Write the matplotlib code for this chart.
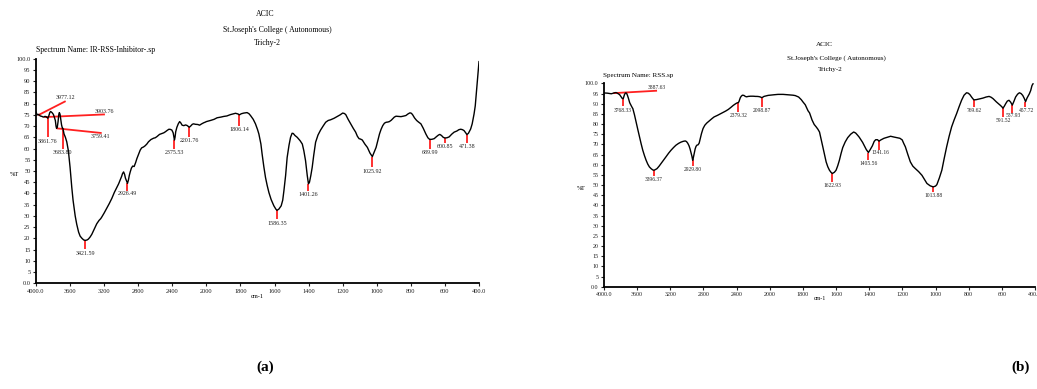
import numpy as np
import matplotlib
matplotlib.use("Agg")
import matplotlib.pyplot as plt
from matplotlib.ticker import FixedLocator, FuncFormatter

plt.rcParams['font.family'] = ['Liberation Serif', 'DejaVu Serif']

# ---------------- data: panel (a) IR-RSS-Inhibitor ----------------
wn_a = [4000, 3985, 3970, 3950, 3930, 3914, 3895, 3882, 3870, 3861, 3850, 3838, 3828, 3812, 3796,
        3785, 3773, 3765, 3759, 3750, 3741, 3733, 3726, 3718, 3710, 3700, 3690, 3684, 3671, 3655,
        3639, 3620, 3600, 3580, 3565, 3553, 3540, 3522, 3500, 3482, 3460, 3440, 3421, 3400, 3385,
        3365, 3345, 3320, 3300, 3287, 3260, 3240, 3228, 3200, 3169, 3140, 3110, 3080, 3051, 3030,
        3012, 2995, 2985, 2972, 2960, 2950, 2940, 2926, 2915, 2905, 2894, 2880, 2865, 2848, 2830,
        2816, 2795, 2777, 2760, 2738, 2720, 2699, 2680, 2651, 2620, 2600, 2581, 2550, 2522, 2500,
        2480, 2463, 2440, 2420, 2405, 2390, 2380, 2375, 2368, 2360, 2346, 2330, 2314, 2300, 2285,
        2265, 2245, 2228, 2210, 2200, 2185, 2165, 2150, 2130, 2100, 2080, 2055, 2030, 2016, 2000,
        1976, 1955, 1937, 1915, 1898, 1880, 1859, 1840, 1829, 1815, 1806, 1795, 1780, 1761, 1750,
        1741, 1725, 1712, 1700, 1692, 1680, 1673, 1663, 1653, 1643, 1633, 1620, 1604, 1592, 1586,
        1575, 1561, 1552, 1545, 1535, 1526, 1515, 1506, 1497, 1490, 1480, 1467, 1450, 1437, 1428,
        1418, 1408, 1401, 1395, 1387, 1379, 1370, 1359, 1345, 1330, 1315, 1300, 1285, 1271, 1250,
        1232, 1215, 1200, 1190, 1182, 1168, 1153, 1138, 1124, 1114, 1104, 1095, 1085, 1070, 1055,
        1040, 1026, 1015, 1004, 994, 984, 975, 965, 955, 945, 935, 926, 915, 907, 897,
        887, 870, 858, 845, 829, 815, 805, 797, 790, 778, 766, 755, 741, 727, 712,
        700, 690, 677, 663, 648, 638, 630, 620, 610, 600, 588, 575, 560, 546, 530,
        518, 507, 497, 488, 478, 471, 462, 449, 440, 429, 422, 416, 410, 405, 400]
T_a = [76.2, 75.0, 75.2, 74.5, 74.3, 74.0, 74.3, 74.2, 73.8, 73.5, 74.5, 76.0, 76.5, 76.0, 75.2,
       74.0, 72.5, 70.0, 69.0, 69.5, 72.0, 75.0, 76.0, 75.3, 73.2, 70.5, 69.0, 69.0, 66.5, 65.0,
       63.0, 59.0, 51.6, 42.7, 37.0, 33.7, 30.0, 26.3, 22.8, 21.0, 20.0, 19.3, 19.1, 19.3, 19.7,
       20.6, 21.8, 23.8, 25.5, 26.5, 28.0, 28.8, 29.5, 31.3, 33.5, 35.5, 37.8, 40.5, 42.7, 44.3,
       46.0, 47.6, 48.8, 49.6, 48.5, 46.8, 45.8, 44.5, 46.0, 48.0, 49.6, 51.3, 52.2, 52.0, 53.8,
       55.5, 57.5, 59.3, 60.3, 60.7, 61.2, 62.0, 63.0, 64.0, 64.6, 64.8, 65.3, 66.3, 66.7, 67.0,
       67.5, 68.0, 68.6, 68.5, 68.2, 67.0, 64.8, 63.8, 65.0, 67.5, 69.5, 71.0, 72.0, 71.4, 70.4,
       70.2, 70.5, 70.3, 69.8, 69.5, 70.0, 70.8, 71.0, 70.8, 70.7, 70.4, 71.0, 71.5, 71.7, 72.0,
       72.5, 73.0, 73.7, 74.0, 74.3, 74.5, 75.1, 75.5, 75.7, 75.4, 75.0, 75.5, 75.8, 76.0, 75.5,
       74.7, 73.0, 71.0, 68.5, 66.5, 62.0, 57.6, 52.0, 47.1, 43.5, 40.4, 37.3, 34.5, 33.0, 32.5,
       33.0, 34.5, 37.0, 41.2, 48.0, 56.0, 61.5, 65.0, 66.8, 66.7, 65.8, 65.0, 63.5, 62.0, 59.0,
       54.6, 48.0, 44.3, 45.0, 48.0, 51.6, 57.0, 62.8, 66.0, 68.2, 70.0, 71.7, 72.5, 72.8, 73.5,
       74.3, 75.0, 75.8, 75.6, 75.1, 73.0, 71.0, 69.0, 67.3, 65.5, 64.4, 64.2, 63.8, 62.0, 60.5,
       58.0, 56.4, 58.5, 60.5, 63.5, 66.5, 68.5, 70.2, 71.3, 71.7, 71.8, 72.0, 72.6, 73.2, 74.0,
       74.4, 74.3, 74.2, 74.4, 74.7, 75.5, 75.9, 75.7, 75.1, 73.6, 72.5, 71.8, 71.0, 69.0, 66.5,
       64.8, 64.1, 64.1, 64.4, 65.4, 66.0, 66.3, 65.8, 65.0, 64.7, 64.8, 65.2, 66.4, 67.3, 67.8,
       68.4, 68.6, 68.4, 68.0, 67.0, 66.2, 66.8, 68.7, 71.0, 75.4, 79.0, 84.4, 90.0, 94.5, 98.7]

peak_wn_a = [3977.12, 3903.76, 3861.76, 3759.41, 3683.80, 3421.59, 2926.49, 2375.53,
             2201.76, 1806.14, 1586.35, 1401.26, 1025.92, 689.99, 600.85, 471.38]
peak_T_a = [74.8, 74.0, 73.5, 69.0, 69.0, 19.1, 44.5, 63.8,
            69.5, 75.0, 32.5, 44.3, 56.4, 64.1, 64.7, 66.2]
peak_lbl_a = ["3977.12", "3903.76", "3861.76", "3759.41", "3683.80", "3421.59", "2926.49", "2375.53",
              "2201.76", "1806.14", "1586.35", "1401.26", "1025.92", "689.99", "600.85", "471.38"]

# ---------------- data: panel (b) RSS ----------------
wn_b = [4000, 3960, 3930, 3912, 3887, 3870, 3855, 3840, 3825, 3812, 3795, 3780, 3768, 3760, 3752,
        3740, 3728, 3716, 3704, 3690, 3680, 3665, 3652, 3632, 3612, 3592, 3572, 3552, 3532, 3512,
        3492, 3472, 3452, 3430, 3410, 3396, 3380, 3360, 3335, 3312, 3280, 3252, 3220, 3192, 3160,
        3132, 3100, 3072, 3045, 3020, 3005, 2990, 2975, 2962, 2950, 2940, 2930, 2922, 2910, 2900,
        2890, 2880, 2865, 2852, 2840, 2824, 2805, 2784, 2760, 2732, 2700, 2672, 2630, 2592, 2560,
        2532, 2500, 2472, 2440, 2412, 2395, 2385, 2378, 2370, 2364, 2355, 2344, 2330, 2312, 2295,
        2280, 2260, 2232, 2200, 2170, 2152, 2130, 2112, 2099, 2085, 2070, 2052, 2020, 2000, 1976,
        1950, 1920, 1886, 1860, 1846, 1826, 1810, 1799, 1786, 1769, 1760, 1745, 1732, 1720, 1710,
        1700, 1690, 1680, 1670, 1660, 1650, 1640, 1630, 1622, 1610, 1600, 1590, 1580, 1570, 1560,
        1545, 1530, 1512, 1494, 1482, 1470, 1460, 1451, 1440, 1431, 1418, 1405, 1395, 1381, 1370,
        1361, 1350, 1341, 1330, 1311, 1290, 1271, 1250, 1231, 1215, 1201, 1192, 1182, 1167, 1152,
        1137, 1122, 1102, 1082, 1067, 1052, 1032, 1014, 1000, 992, 977, 962, 948, 933, 918,
        903, 888, 873, 858, 843, 828, 813, 803, 793, 780, 769, 755, 743, 728, 713,
        695, 677, 665, 653, 643, 633, 620, 609, 600, 593, 585, 577, 567, 557, 547,
        537, 527, 517, 505, 494, 484, 474, 464, 457, 448, 434, 426, 418, 412]
T_b = [95.3, 95.2, 95.0, 94.9, 95.2, 95.4, 95.5, 95.2, 94.8, 94.5, 93.5, 92.6, 92.5, 93.5, 94.6,
       95.3, 95.2, 94.0, 92.5, 90.5, 89.7, 88.5, 87.6, 84.5, 81.0, 77.3, 73.7, 70.3, 67.1, 64.5,
       62.2, 60.3, 58.9, 58.0, 57.4, 57.3, 57.6, 58.1, 59.3, 60.6, 62.4, 63.9, 65.7, 67.1, 68.5,
       69.6, 70.5, 71.1, 71.5, 71.7, 71.4, 70.6, 69.4, 67.8, 66.0, 64.3, 62.2, 63.5, 66.0, 67.8,
       69.0, 69.6, 69.8, 70.6, 72.7, 75.3, 77.8, 79.4, 80.5, 81.5, 82.6, 83.5, 84.3, 85.1, 85.8,
       86.4, 87.2, 88.1, 89.2, 90.0, 90.4, 90.5, 90.6, 91.2, 92.0, 93.0, 93.7, 94.2, 94.1, 93.6,
       93.4, 93.6, 93.7, 93.7, 93.6, 93.6, 93.5, 93.3, 93.0, 93.2, 93.6, 93.8, 94.1, 94.2, 94.4,
       94.6, 94.6, 94.4, 94.2, 94.0, 93.3, 92.0, 90.8, 89.5, 86.5, 85.5, 82.0, 79.8, 78.6, 77.5,
       76.1, 72.5, 68.8, 65.0, 61.4, 59.0, 57.3, 56.2, 55.7, 56.3, 57.3, 59.5, 62.2, 65.5, 68.4,
       71.2, 73.3, 75.0, 76.1, 75.6, 74.5, 73.5, 72.4, 71.0, 69.6, 67.5, 66.0, 67.3, 69.3, 71.5,
       72.3, 72.3, 71.6, 72.2, 73.0, 73.5, 74.0, 73.6, 73.3, 73.0, 72.2, 70.5, 68.8, 65.0, 61.4,
       59.3, 58.1, 56.6, 54.8, 52.8, 50.8, 49.6, 49.1, 49.5, 50.2, 53.5, 57.3, 63.0, 68.8, 74.0,
       78.6, 82.0, 85.1, 88.5, 91.7, 94.2, 95.4, 95.2, 94.5, 93.0, 91.9, 92.0, 92.2, 92.5, 92.8,
       93.3, 93.6, 93.2, 92.5, 91.7, 90.9, 90.0, 89.2, 88.5, 87.8, 88.8, 90.0, 91.3, 91.7, 90.8,
       89.3, 91.2, 93.3, 94.7, 95.4, 95.0, 94.1, 92.5, 91.0, 92.8, 94.9, 96.5, 99.0, 99.8]

peak_wn_b = [3887.63, 3768.33, 3396.37, 2929.80, 2379.32, 2098.87, 1622.93, 1405.56,
             1341.16, 1013.88, 769.62, 591.52, 537.93, 457.72]
peak_T_b = [95.2, 92.5, 57.3, 62.2, 90.5, 93.0, 55.7, 66.0,
            71.6, 49.1, 91.9, 87.8, 89.3, 91.0]
peak_lbl_b = ["3887.63", "3768.33", "3396.37", "2929.80", "2379.32", "2098.87", "1622.93", "1405.56",
              "1341.16", "1013.88", "769.62", "591.52", "537.93", "457.72"]

x_ticks = [4000, 3600, 3200, 2800, 2400, 2000, 1800, 1600, 1400, 1200, 1000, 800, 600, 400]
y_ticks = list(range(0, 101, 5))

# ---------------- layout (label line ends / text anchors) ----------------
# (x_end, T_end, x_text, T_text, va)
layout_a = [(3652, 81.1, 3652, 81.4, 'bottom'),
            (3191, 75.2, 3200, 75.4, 'bottom'),
            (3861.76, 65.0, 3861.76, 64.4, 'top'),
            (3229, 66.9, 3240, 66.4, 'top'),
            (3683.80, 59.8, 3683.80, 59.2, 'top'),
            (3421.59, 15.1, 3421.59, 14.5, 'top'),
            (2926.49, 41.2, 2926.49, 40.9, 'top'),
            (2375.53, 59.8, 2375.53, 59.3, 'top'),
            (2201.76, 65.0, 2201.76, 64.5, 'top'),
            (1806.14, 70.2, 1806.14, 69.5, 'top'),
            (1586.35, 28.5, 1586.35, 27.8, 'top'),
            (1401.26, 41.2, 1401.26, 40.8, 'top'),
            (1025.92, 51.6, 1025.92, 51.0, 'top'),
            (689.99, 59.8, 689.99, 59.2, 'top'),
            (600.85, 62.3, 600.85, 62.0, 'top'),
            (471.38, 62.3, 471.38, 62.0, 'top')]
layout_b = [(3360, 96.4, 3360, 96.6, 'bottom'),
            (3768.33, 88.7, 3768.33, 88.0, 'top'),
            (3396.37, 54.4, 3396.37, 54.0, 'top'),
            (2929.80, 59.3, 2929.80, 58.8, 'top'),
            (2379.32, 86.0, 2379.32, 85.5, 'top'),
            (2098.87, 88.4, 2098.87, 87.8, 'top'),
            (1622.93, 51.6, 1622.93, 51.0, 'top'),
            (1405.56, 62.2, 1405.56, 61.8, 'top'),
            (1341.16, 67.1, 1330.0, 67.3, 'top'),
            (1013.88, 46.7, 1013.88, 46.2, 'top'),
            (769.62, 88.4, 769.62, 87.8, 'top'),
            (591.52, 83.5, 591.52, 82.8, 'top'),
            (537.93, 85.5, 530.0, 85.3, 'top'),
            (457.72, 88.4, 454.0, 88.0, 'top')]


def fwd(w):
    w = np.asarray(w, dtype=float)
    return np.where(w > 2000, 2000 + (w - 2000) / 2.0, w)


def inv(v):
    v = np.asarray(v, dtype=float)
    return np.where(v > 2000, 2000 + 2.0 * (v - 2000), v)


def xfmt(v, pos):
    if abs(v - 4000) < 1e-6 or abs(v - 400) < 1e-6:
        return f"{v:.1f}"
    return f"{v:.0f}"


def yfmt(v, pos):
    if abs(v) < 1e-6 or abs(v - 100) < 1e-6:
        return f"{v:.1f}"
    return f"{v:.0f}"


fig = plt.figure(figsize=(10.37, 3.89), dpi=100)


def panel(rect, wn, T, pk_wn, pk_T, pk_lbl, layout, fs_tick, fs_pk):
    ax = fig.add_axes(rect)
    ax.set_xscale('function', functions=(fwd, inv))
    ax.set_xlim(4000, 400)
    ax.set_ylim(0, 100)
    ax.plot(wn, T, color='black', lw=1.0, zorder=3)
    for w, t, lbl, (xe, te, xt, tt, va) in zip(pk_wn, pk_T, pk_lbl, layout):
        ax.plot([w, xe], [t, te], color='#ff2020', lw=1.3, zorder=2, solid_capstyle='butt')
        ax.text(xt, tt, lbl, ha='center', va=va, fontsize=fs_pk, color='#222222', zorder=4)
    ax.xaxis.set_major_locator(FixedLocator(x_ticks))
    ax.xaxis.set_major_formatter(FuncFormatter(xfmt))
    ax.xaxis.set_minor_locator(FixedLocator([]))
    ax.yaxis.set_major_locator(FixedLocator(y_ticks))
    ax.yaxis.set_major_formatter(FuncFormatter(yfmt))
    for s in ['top', 'right']:
        ax.spines[s].set_visible(False)
    for s in ['left', 'bottom']:
        ax.spines[s].set_linewidth(1.3)
    ax.tick_params(axis='both', direction='out', length=2.5, width=0.8,
                   labelsize=fs_tick, pad=1.5, colors='#222222')
    ax.patch.set_alpha(0)
    return ax


ax_a = panel([36 / 1037, 1 - 283.3 / 389, 443 / 1037, 224.6 / 389],
             wn_a, T_a, peak_wn_a, peak_T_a, peak_lbl_a, layout_a, 4.6, 4.3)
ax_b = panel([604 / 1037, 1 - 286.7 / 389, 431 / 1037, 203.3 / 389],
             wn_b, T_b, peak_wn_b, peak_T_b, peak_lbl_b, layout_b, 4.3, 4.0)

# axis labels
fig.text(14 / 1037, 1 - 175 / 389, "%T", fontsize=4.6, ha='center', va='center')
fig.text(257 / 1037, 1 - 297 / 389, "cm-1", fontsize=4.6, ha='center', va='center')
fig.text(581 / 1037, 1 - 189 / 389, "%T", fontsize=4.3, ha='center', va='center')
fig.text(820 / 1037, 1 - 299 / 389, "cm-1", fontsize=4.3, ha='center', va='center')

# headers (a)
fig.text(265 / 1037, 1 - 14 / 389, "ACIC", fontsize=5.6, ha='center', va='center')
fig.text(277 / 1037, 1 - 30 / 389, "St.Joseph's College ( Autonomous)", fontsize=5.6, ha='center', va='center')
fig.text(267 / 1037, 1 - 43 / 389, "Trichy-2", fontsize=5.6, ha='center', va='center')
fig.text(36 / 1037, 1 - 50 / 389, "Spectrum Name: IR-RSS-Inhibitor-.sp", fontsize=5.6, ha='left', va='center')

# headers (b)
fig.text(824 / 1037, 1 - 44 / 389, "ACIC", fontsize=5.1, ha='center', va='center')
fig.text(836 / 1037, 1 - 58 / 389, "St.Joseph's College ( Autonomous)", fontsize=5.1, ha='center', va='center')
fig.text(830 / 1037, 1 - 70 / 389, "Trichy-2", fontsize=5.1, ha='center', va='center')
fig.text(603 / 1037, 1 - 76 / 389, "Spectrum Name: RSS.sp", fontsize=5.1, ha='left', va='center')

# panel labels
fig.text(265 / 1037, 1 - 367 / 389, "(a)", fontsize=11, fontweight='bold', ha='center', va='center')
fig.text(1021 / 1037, 1 - 367 / 389, "(b)", fontsize=11, fontweight='bold', ha='center', va='center')

fig.savefig("out.png", dpi=100, facecolor='white')
